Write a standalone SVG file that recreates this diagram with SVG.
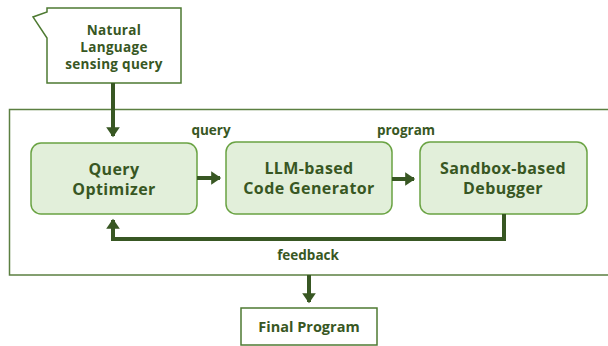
<svg xmlns="http://www.w3.org/2000/svg" width="608" height="346" viewBox="0 0 608 346">
<defs>
<style>
.t{font-family:"Open Sans","Noto Sans","DejaVu Sans",sans-serif;font-weight:bold;fill:#385723;text-anchor:middle}
.n{font-size:16px;letter-spacing:0.4px}
.s{font-size:13.5px;letter-spacing:0.3px}
.f{font-size:14.5px}
.l{font-size:13.5px}
.rb{fill:#E2EFDA;stroke:#6AA343;stroke-width:1.5}
.wb{fill:#FFFFFF;stroke:#4E7A32;stroke-width:1.5}
.c{fill:none;stroke:#385723;stroke-width:4}
</style>
<marker id="ah" markerWidth="4" markerHeight="4" refX="2.2" refY="2" orient="auto" markerUnits="strokeWidth">
<path d="M0,0.3 L2.5,2 L0,3.7 Z" fill="#385723"/>
</marker>
</defs>
<rect x="9.5" y="109.5" width="610" height="165.5" fill="none" stroke="#5B7F41" stroke-width="1.5"/>
<g id="nl-query">
<path class="wb" d="M47,8 H181 V83 H47 V38 L33,17 L47,12 Z"/>
<text class="t s" x="114" y="35">Natural</text>
<text class="t s" x="114" y="52">Language</text>
<text class="t s" x="114" y="69">sensing query</text>
</g>
<g id="query-optimizer">
<rect class="rb" x="31" y="143" width="166" height="71" rx="10"/>
<text class="t n" x="114" y="175">Query</text>
<text class="t n" x="114" y="195">Optimizer</text>
</g>
<g id="code-generator">
<rect class="rb" x="226" y="142" width="166" height="72" rx="10"/>
<text class="t n" x="309" y="174">LLM-based</text>
<text class="t n" x="309" y="194">Code Generator</text>
</g>
<g id="debugger">
<rect class="rb" x="420" y="142" width="167" height="72" rx="10"/>
<text class="t n" x="503" y="174">Sandbox-based</text>
<text class="t n" x="503" y="194">Debugger</text>
</g>
<g id="final-program">
<rect class="wb" x="241" y="308" width="136" height="37"/>
<text class="t f" x="309" y="332">Final Program</text>
</g>
<g id="connectors">
<path class="c" d="M113,83 V136" marker-end="url(#ah)"/>
<path class="c" d="M197,178 H220" marker-end="url(#ah)"/>
<path class="c" d="M392,179 H414" marker-end="url(#ah)"/>
<path class="c" d="M504,214 V239 H113 V220" marker-end="url(#ah)"/>
<path class="c" d="M309,275 V302" marker-end="url(#ah)"/>
<text class="t l" x="211" y="135">query</text>
<text class="t l" x="406" y="135">program</text>
<text class="t l" x="308" y="260">feedback</text>
</g>
</svg>
